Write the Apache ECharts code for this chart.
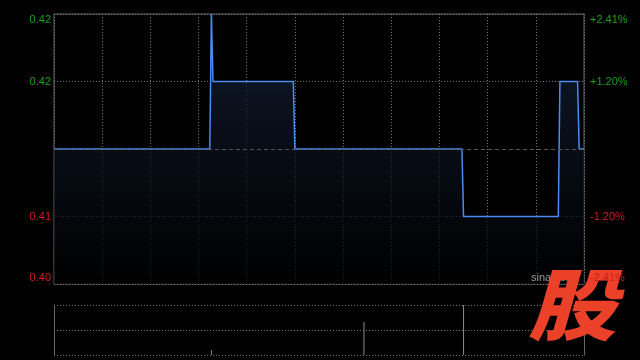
<!DOCTYPE html>
<html><head><meta charset="utf-8">
<script src="https://cdn.jsdelivr.net/npm/echarts@6/dist/echarts.min.js"></script>
<style>html,body{margin:0;padding:0;background:#000;}#c{width:640px;height:360px;}</style>
</head><body><div id="c"></div>
<script>
// intraday minute index (0 = 09:30, 330 = 16:00) at each price change
const minutes = [0, 97, 98, 99, 149, 150, 254, 255, 314, 315, 326, 327, 330];
const prices  = [0.415, 0.415, 0.425, 0.42, 0.42, 0.415, 0.415, 0.41, 0.41, 0.42, 0.42, 0.415, 0.415];
const prevClose = 0.415;
const priceTicks  = [0.405, 0.41, 0.415, 0.42, 0.425];
const priceLabels = ['0.40', '0.41', '', '0.42', '0.42'];
const pctLabels   = ['-2.41%', '-1.20%', '', '+1.20%', '+2.41%'];
const volMinutes = [98, 193, 255];
const volumes    = [10000, 66000, 100000];

const GREEN = '#18a018', RED = '#d41c1c', GRID = '#747474', BORDER = '#666';
function tickIndex(v){ for (let i=0;i<priceTicks.length;i++){ if (Math.abs(priceTicks[i]-v)<1e-7) return i; } return -1; }
function fmt(labels){
  return function(v){
    const i = tickIndex(v); if (i<0 || !labels[i]) return '';
    const up = priceTicks[i] > prevClose;
    let k = up ? 'g' : 'r';
    if (i === priceTicks.length-1) k += 't';
    if (i === 0) k += 'b';
    return '{' + k + '|' + labels[i] + '}';
  };
}
const rich = {
  g:{color:GREEN}, r:{color:RED},
  gt:{color:GREEN, padding:[12,0,0,0]}, rt:{color:RED, padding:[12,0,0,0]},
  gb:{color:GREEN, padding:[0,0,12,0]}, rb:{color:RED, padding:[0,0,12,0]}
};
const font = {fontFamily:'"Liberation Sans", Arial, sans-serif', fontSize:11};

const chart = echarts.init(document.getElementById('c'), null, {renderer:'canvas'});
chart.setOption({
  backgroundColor:'#000',
  animation:false,
  grid:[
    {left:54, top:14, width:530, height:270, show:true, borderColor:BORDER, borderWidth:1, backgroundColor:'transparent'},
    {left:54, top:305, width:530, height:50, show:false}
  ],
  xAxis:[
    {type:'value', gridIndex:0, min:0, max:330, interval:30,
     axisLine:{show:false}, axisTick:{show:false}, axisLabel:{show:false},
     splitLine:{show:true, lineStyle:{color:GRID, type:[1,2], width:1}}},
    {type:'value', gridIndex:1, min:0, max:330, interval:30,
     axisLine:{show:false}, axisTick:{show:false}, axisLabel:{show:false}, splitLine:{show:false}}
  ],
  yAxis:[
    {type:'value', gridIndex:0, position:'left', min:0.405, max:0.425, interval:0.005,
     axisLine:{show:false}, axisTick:{show:false},
     axisLabel:Object.assign({show:true, margin:3, formatter:fmt(priceLabels), rich:rich}, font),
     splitLine:{show:true, lineStyle:{color:[GRID,GRID,'rgba(0,0,0,0)',GRID,GRID], type:[1,2], width:1}}},
    {type:'value', gridIndex:0, position:'right', min:0.405, max:0.425, interval:0.005, z:200,
     axisLine:{show:false}, axisTick:{show:false},
     axisLabel:Object.assign({show:true, margin:6, formatter:fmt(pctLabels), rich:rich}, font),
     splitLine:{show:false}},
    {type:'value', gridIndex:1, position:'left', min:0, max:100000, interval:50000,
     axisLine:{show:true, lineStyle:{color:BORDER, width:1}}, axisTick:{show:false}, axisLabel:{show:false},
     splitLine:{show:true, lineStyle:{color:GRID, type:[1,2], width:1}}},
    {type:'value', gridIndex:1, position:'right', min:0, max:100000, interval:50000,
     axisLine:{show:true, lineStyle:{color:BORDER, width:1}}, axisTick:{show:false}, axisLabel:{show:false},
     splitLine:{show:false}}
  ],
  series:[
    {type:'line', xAxisIndex:0, yAxisIndex:0, showSymbol:false, symbol:'none',
     data: minutes.map((m,i)=>[m, prices[i]]),
     lineStyle:{color:'#4b8bf4', width:1.5},
     areaStyle:{origin:'start', color:{type:'linear', x:0, y:0, x2:0, y2:1,
       colorStops:[{offset:0, color:'#16243f'},{offset:1, color:'#000000'}]}},
     markLine:{silent:true, precision:4, symbol:['none','none'], label:{show:false},
       lineStyle:{color:'#555', type:[4,3], width:1},
       data:[{yAxis:prevClose}]}
    },
    {type:'bar', xAxisIndex:1, yAxisIndex:2, barWidth:1,
     data: volMinutes.map((m,i)=>[m, volumes[i]]),
     itemStyle:{color:'#8a8a8a'}}
  ],
  graphic:[
    {type:'text', x:531, y:278, z:50, style:{text:'sina.com', fill:'#9a9a9a', font:'11px "Liberation Sans"', align:'left', verticalAlign:'middle'}},
    {type:'text', x:572, y:304, z:100, scaleX:1.05, scaleY:0.93,
     style:{text:'股', fill:'#ea4128', font:'italic 900 84px "Noto Sans CJK SC"', align:'center', verticalAlign:'middle'}}
  ]
});
</script></body></html>
